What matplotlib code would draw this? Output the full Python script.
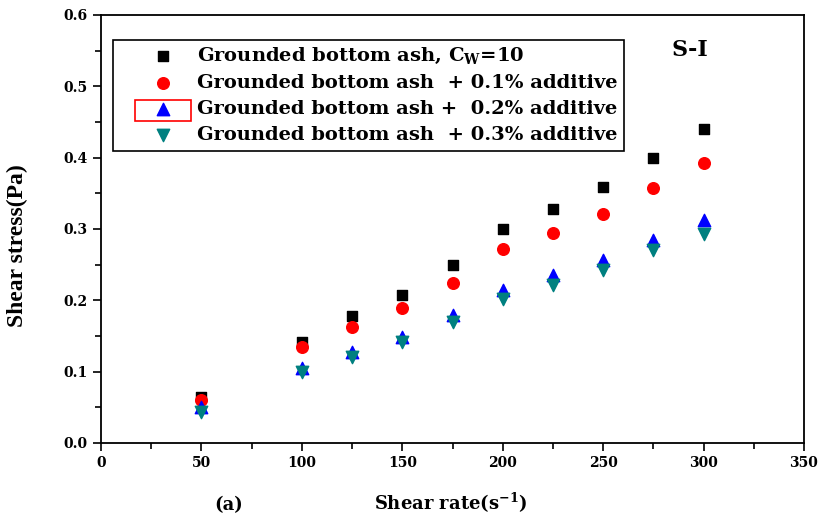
import matplotlib.pyplot as plt
from matplotlib.patches import Rectangle
from matplotlib.ticker import MultipleLocator, FormatStrFormatter

# the reference text is wide and bold, DejaVu Serif bold gets close to that
plt.rcParams['font.family'] = ['DejaVu Serif']
plt.rcParams['font.weight'] = 'bold'
plt.rcParams['mathtext.fontset'] = 'custom'
plt.rcParams['mathtext.rm'] = 'DejaVu Serif:bold'
plt.rcParams['mathtext.it'] = 'DejaVu Serif:bold'
plt.rcParams['mathtext.bf'] = 'DejaVu Serif:bold'

shear_rate = [50, 100, 125, 150, 175, 200, 225, 250, 275, 300]
base = [0.065, 0.142, 0.178, 0.208, 0.249, 0.300, 0.328, 0.359, 0.400, 0.440]
add_01 = [0.060, 0.134, 0.163, 0.189, 0.224, 0.272, 0.294, 0.321, 0.357, 0.393]
add_02 = [0.050, 0.105, 0.128, 0.148, 0.180, 0.214, 0.236, 0.257, 0.285, 0.313]
add_03 = [0.044, 0.099, 0.121, 0.141, 0.169, 0.202, 0.221, 0.242, 0.271, 0.293]

labels = [
    r"Grounded bottom ash, C$_{\mathregular{W}}$=10",
    "Grounded bottom ash  + 0.1% additive",
    "Grounded bottom ash +  0.2% additive",
    "Grounded bottom ash  + 0.3% additive",
]

fig = plt.figure(figsize=(8.19, 5.22), dpi=100)
ax = fig.add_axes([101 / 819, 1 - 443 / 522, 703 / 819, 428 / 522])

ax.scatter(shear_rate, base, marker='s', s=60, color='black', label=labels[0])
ax.scatter(shear_rate, add_01, marker='o', s=70, color='red', label=labels[1])
ax.scatter(shear_rate, add_02, marker='^', s=80, color='blue', label=labels[2])
ax.scatter(shear_rate, add_03, marker='v', s=80, color='#008080', label=labels[3])

ax.set_xlim(0, 350)
ax.set_ylim(0, 0.6)
ax.xaxis.set_major_locator(MultipleLocator(50))
ax.xaxis.set_minor_locator(MultipleLocator(25))
ax.yaxis.set_major_locator(MultipleLocator(0.1))
ax.yaxis.set_minor_locator(MultipleLocator(0.05))
ax.yaxis.set_major_formatter(FormatStrFormatter('%.1f'))
ax.tick_params(which='both', direction='out', top=False, right=False, labelsize=10)
ax.tick_params(which='major', length=6, width=1.2)
ax.tick_params(which='minor', length=4, width=1.2)
for sp in ax.spines.values():
    sp.set_linewidth(1.3)

ax.set_xlabel(r"Shear rate(s$^{\mathregular{-1}}$)", fontsize=13, fontweight='bold')
ax.xaxis.set_label_coords(0.497, -0.112)
ax.set_ylabel("Shear stress(Pa)", fontsize=17, fontweight='bold',
              fontfamily='Liberation Serif')
ax.yaxis.set_label_coords(-0.104, 0.46)
fig.text(229 / 819, 1 - 505 / 522, "(a)", fontsize=13, fontweight='bold',
         ha='center', va='center')
fig.text(690 / 819, 1 - 50 / 522, "S-I", fontsize=16, fontweight='bold',
         ha='center', va='center')

leg = ax.legend(loc='upper left', bbox_to_anchor=(113 / 819, 1 - 40 / 522),
                bbox_transform=fig.transFigure, fancybox=False,
                edgecolor='black', framealpha=1, fontsize=14,
                handlelength=4.49, handletextpad=-0.49, borderpad=0.33,
                labelspacing=0.41, borderaxespad=0)
leg.get_frame().set_linewidth(1.2)

# red box drawn round the triangle symbol in the legend
fig.patches.append(Rectangle((135 / 819, 1 - 121 / 522), 56 / 819, 21 / 522,
                             transform=fig.transFigure, fill=False,
                             edgecolor='red', linewidth=1.2))

fig.savefig("out.png", dpi=100)
